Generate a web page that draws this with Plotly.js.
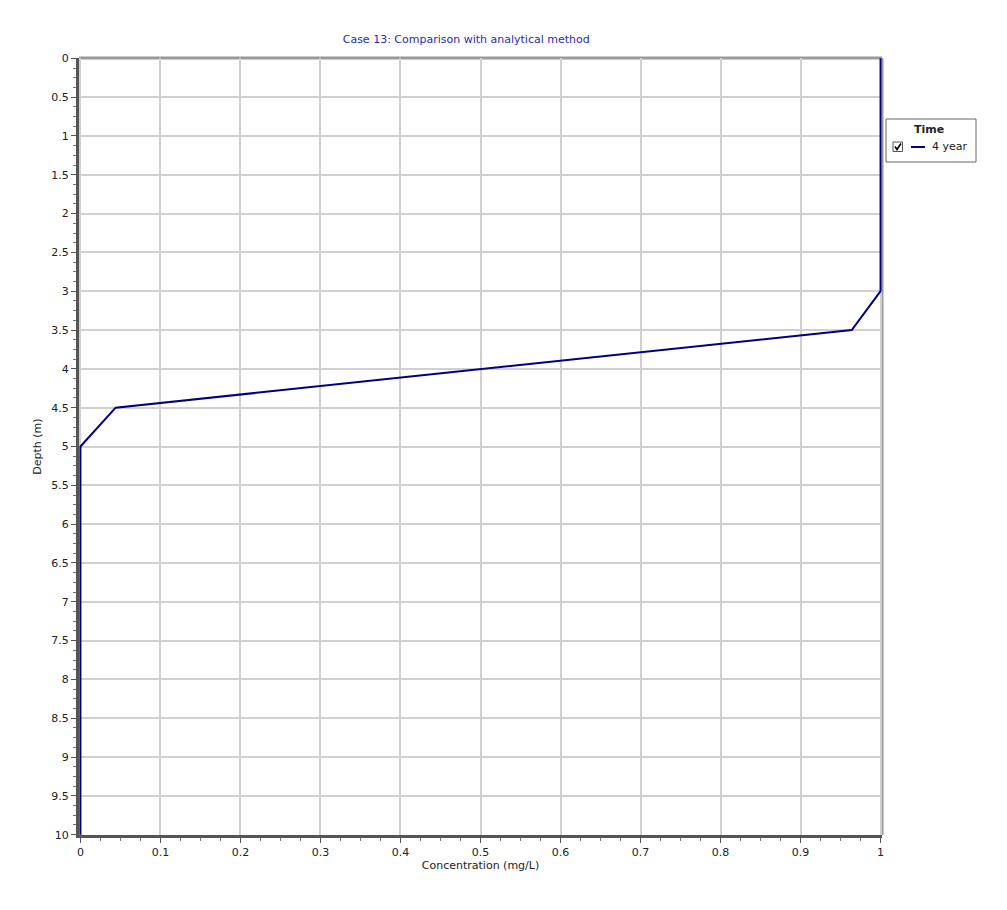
<!DOCTYPE html>
<html>
<head>
<meta charset="utf-8">
<script src="https://cdn.plot.ly/plotly-3.0.1.min.js"></script>
<style>body{margin:0;padding:0;background:#fff}#chart{width:1007px;height:910px}</style>
</head>
<body>
<div id="chart"></div>
<script>
const depth = [0, 0.5, 1, 1.5, 2, 2.5, 3, 3.5, 4, 4.5, 5, 5.5, 6, 6.5, 7, 7.5, 8, 8.5, 9, 9.5, 10];
const concentration = [1, 1, 1, 1, 1, 1, 1, 0.964, 0.5, 0.044, 0, 0, 0, 0, 0, 0, 0, 0, 0, 0, 0];
const seriesName = "4 year";
const legendTitle = "Time";
const xTicks = [0, 0.1, 0.2, 0.3, 0.4, 0.5, 0.6, 0.7, 0.8, 0.9, 1];
const yTicks = [0, 0.5, 1, 1.5, 2, 2.5, 3, 3.5, 4, 4.5, 5, 5.5, 6, 6.5, 7, 7.5, 8, 8.5, 9, 9.5, 10];

const font = "Verdana, 'DejaVu Sans', sans-serif";
const W = 1007, H = 910, ML = 79, MR = 125, MT = 58, MB = 75;
const pw = W - ML - MR, ph = H - MT - MB;
const px = v => (v - ML) / pw;
const py = v => (H - MB - v) / ph;
const lineColor = '#000080';

const trace = {
  x: concentration, y: depth, type: 'scatter', mode: 'lines', name: seriesName,
  line: {color: lineColor, width: 2}, showlegend: false
};

const shapes = [
  {type: 'line', xref: 'paper', yref: 'paper', x0: 0, x1: 1, y0: 1, y1: 1, layer: 'below', line: {color: '#999', width: 3}},
  {type: 'line', xref: 'paper', yref: 'paper', x0: 1, x1: 1, y0: 0, y1: 1, layer: 'below', line: {color: '#999', width: 3}},
  // legend box
  {type: 'rect', xref: 'paper', yref: 'paper', x0: px(886), x1: px(976), y0: py(119), y1: py(162), line: {color: '#666', width: 1}, fillcolor: '#fff'},
  // checkbox
  {type: 'rect', xref: 'paper', yref: 'paper', x0: px(893), x1: px(902.5), y0: py(142), y1: py(151.5), line: {color: '#555', width: 1}, fillcolor: '#fff'},
  // check mark
  {type: 'path', xref: 'paper', yref: 'paper', path: `M ${px(895)} ${py(146.5)} L ${px(897)} ${py(149.5)} L ${px(901)} ${py(143.5)}`, line: {color: '#000', width: 1.6}},
  // legend line sample
  {type: 'line', xref: 'paper', yref: 'paper', x0: px(911), x1: px(925), y0: py(147), y1: py(147), line: {color: lineColor, width: 2}}
];

const annotations = [
  {xref: 'paper', yref: 'paper', x: px(929), y: py(129), text: '<b>' + legendTitle + '</b>', showarrow: false, xanchor: 'center', yanchor: 'middle', font: {family: font, size: 11, color: '#222'}},
  {xref: 'paper', yref: 'paper', x: px(930), y: py(147), text: seriesName, showarrow: false, xanchor: 'left', yanchor: 'middle', font: {family: font, size: 11, color: '#222'}}
];

const layout = {
  width: W, height: H,
  margin: {l: ML, r: MR, t: MT, b: MB},
  paper_bgcolor: '#fff', plot_bgcolor: '#fff',
  font: {family: font, size: 11, color: '#222'},
  title: {text: 'Case 13: Comparison with analytical method', font: {family: font, size: 11, color: '#2a2ab8'}, x: 0.463, xanchor: 'center', y: 0.957, yanchor: 'middle'},
  xaxis: {
    range: [-0.0018, 1.0018], tickvals: xTicks, ticktext: xTicks.map(String),
    showgrid: true, gridcolor: '#d0d0d0', gridwidth: 2,
    showline: true, linecolor: '#555', linewidth: 3, layer: 'below traces',
    ticks: 'outside', ticklen: 5, tickwidth: 1, tickcolor: '#555',
    minor: {dtick: 0.025, ticks: 'outside', ticklen: 3, tickcolor: '#777', showgrid: false},
    zeroline: false,
    title: {text: 'Concentration (mg/L)', font: {family: font, size: 11, color: '#222'}, standoff: 4}
  },
  yaxis: {
    range: [10.004, -0.004], tickvals: yTicks, ticktext: yTicks.map(String),
    showgrid: true, gridcolor: '#d0d0d0', gridwidth: 2,
    showline: true, linecolor: '#555', linewidth: 3, layer: 'below traces',
    ticks: 'outside', ticklen: 5, tickwidth: 1, tickcolor: '#555',
    minor: {dtick: 0.125, ticks: 'outside', ticklen: 3, tickcolor: '#777', showgrid: false},
    zeroline: false,
    title: {text: 'Depth (m)', font: {family: font, size: 11, color: '#222'}, standoff: 8}
  },
  showlegend: false,
  shapes: shapes,
  annotations: annotations
};
Plotly.newPlot('chart', [trace], layout, {displayModeBar: false, staticPlot: true});
</script>
</body>
</html>
